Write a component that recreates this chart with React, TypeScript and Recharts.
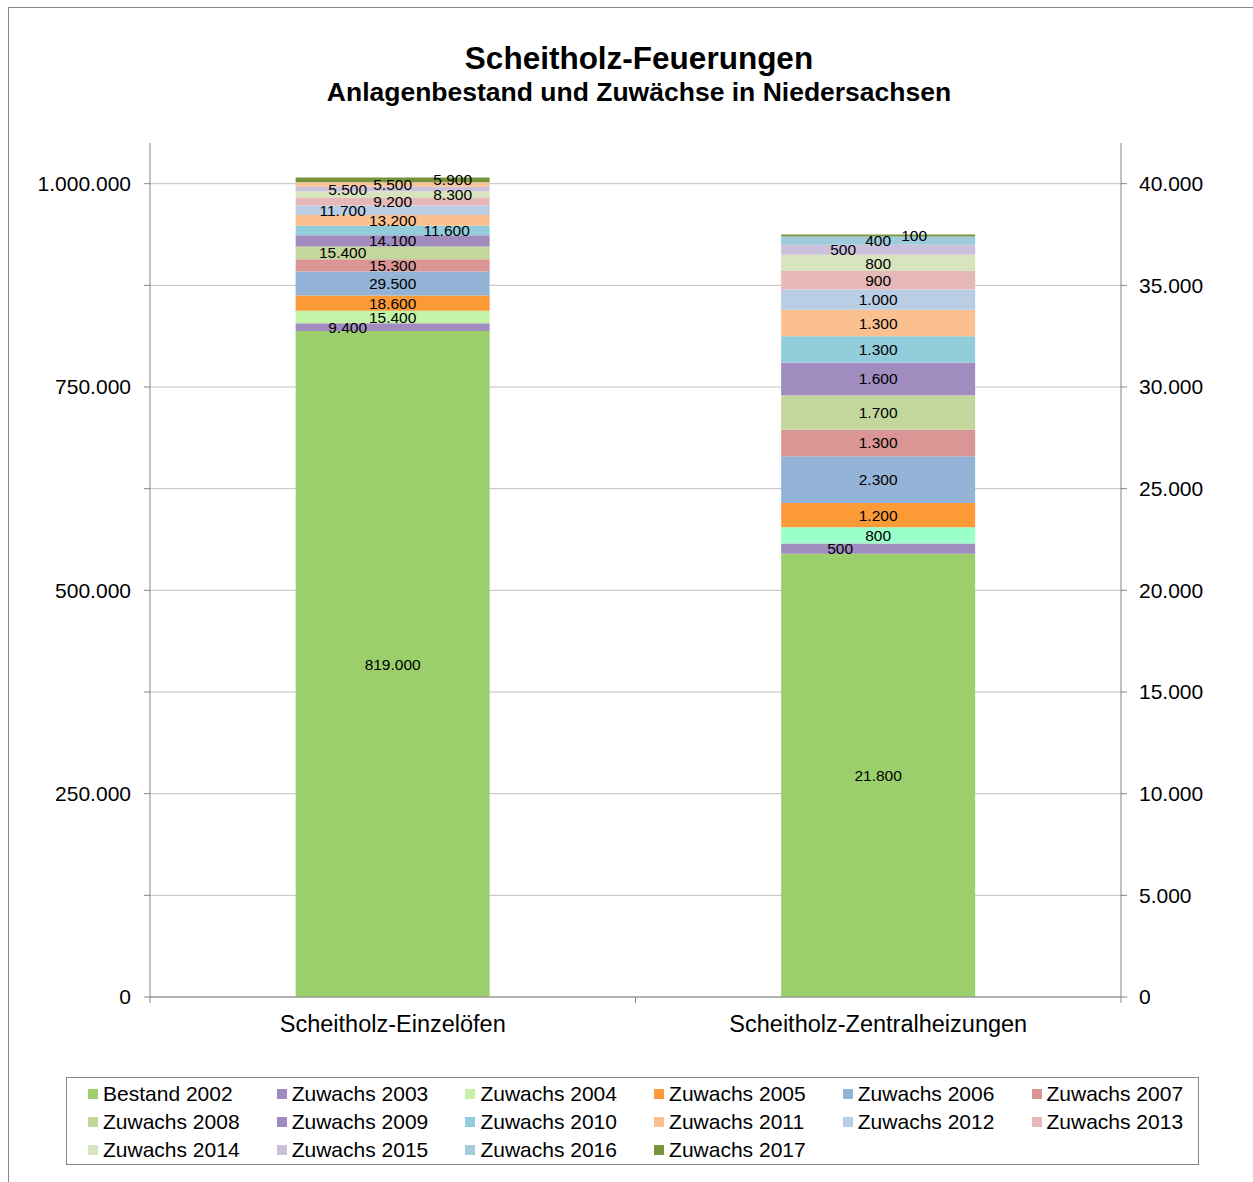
import React from "react";
import { BarChart, Bar, XAxis, YAxis, CartesianGrid, LabelList } from "recharts";

const categories = ["Scheitholz-Einzelöfen", "Scheitholz-Zentralheizungen"];
const seriesNames = [
  "Bestand 2002",
  "Zuwachs 2003",
  "Zuwachs 2004",
  "Zuwachs 2005",
  "Zuwachs 2006",
  "Zuwachs 2007",
  "Zuwachs 2008",
  "Zuwachs 2009",
  "Zuwachs 2010",
  "Zuwachs 2011",
  "Zuwachs 2012",
  "Zuwachs 2013",
  "Zuwachs 2014",
  "Zuwachs 2015",
  "Zuwachs 2016",
  "Zuwachs 2017",
];
// left axis
const einzeloefen = [819000, 9400, 15400, 18600, 29500, 15300, 15400, 14100, 11600, 13200, 11700, 9200, 8300, 5500, 5500, 5900];
// right axis
const zentralheizungen = [21800, 500, 800, 1200, 2300, 1300, 1700, 1600, 1300, 1300, 1000, 900, 800, 500, 400, 100];

const leftTicks = [0, 125000, 250000, 375000, 500000, 625000, 750000, 875000, 1000000];
const rightTicks = [0, 5000, 10000, 15000, 20000, 25000, 30000, 35000, 40000];
const LEFT_MAX = 1050000;
const RIGHT_MAX = 42000;

const legendColors = [
  "#9BCF6B", "#A08CBE", "#C6F0AA", "#FD9A38", "#93B3D7", "#D99694", "#C3D69B", "#A08CBE",
  "#92CDDC", "#FAC090", "#B9CDE5", "#E6B9B8", "#D7E4BD", "#CCC1DA", "#A5CBDB", "#77933C",
];
const colorsE = legendColors.map((c, i) => (i === 2 ? "#C3F2A9" : i === 14 ? "#F9C39A" : c));
const colorsZ = legendColors.map((c, i) => (i === 2 ? "#9BFFCA" : i === 14 ? "#9DCBDD" : c));

// horizontal nudges so the crowded labels don't sit on top of each other
const dxE = [0, -45, 0, 0, 0, 0, -50, 0, 54, 0, -50, 0, 60, -45, 0, 60];
const dxZ = [0, -38, 0, 0, 0, 0, 0, 0, 0, 0, 0, 0, 0, -35, 0, 36];

const W = 1253;
const H = 1182;
const M = { top: 143, right: 10, bottom: 125, left: 10 };
const BAND = (W - 150 - 132) / categories.length;
const FONT = "'Liberation Sans', Arial, sans-serif";

const fmt = (v: number) => String(Math.round(v)).replace(/\B(?=(\d{3})+(?!\d))/g, ".");

const rows = categories.map((name, ci) => {
  const row: Record<string, string | number> = { name };
  seriesNames.forEach((_, i) => {
    if (ci === 0) row[`e${i}`] = einzeloefen[i];
    else row[`z${i}`] = zentralheizungen[i];
  });
  return row;
});

const makeLabel = (dx: number) => (props: any) => {
  const { value } = props;
  if (value == null || value === 0) return null;
  const vb = props.viewBox ?? props;
  const x = Number(vb.x) + Number(vb.width) / 2 + dx;
  const y = Number(vb.y) + Number(vb.height) / 2;
  return (
    <text x={x} y={y} dy="0.36em" textAnchor="middle" fontSize={15.5} fill="#000" fontFamily={FONT}>
      {fmt(Number(value))}
    </text>
  );
};

const CategoryTick = (props: any) => {
  const { x, y, payload, index } = props;
  return (
    <g>
      <line x1={x - BAND / 2} x2={x - BAND / 2} y1={y - 8} y2={y - 2} stroke="#868686" />
      {index === categories.length - 1 && (
        <line x1={x + BAND / 2} x2={x + BAND / 2} y1={y - 8} y2={y - 2} stroke="#868686" />
      )}
      <text x={x} y={y + 27} textAnchor="middle" fontSize={23.5} fill="#000" fontFamily={FONT}>
        {payload.value}
      </text>
    </g>
  );
};

// only the tick rows, no line along the top edge of the plot
const gridRows = ({ yAxis, offset }: any) => {
  if (yAxis && typeof yAxis.scale === "function") return leftTicks.map((t) => yAxis.scale(t));
  return leftTicks.map((t) => offset.top + offset.height * (1 - t / LEFT_MAX));
};

export default function App() {
  return (
    <div style={{ position: "absolute", left: 0, top: 0, width: W, height: H, overflow: "hidden", fontFamily: FONT, background: "#fff" }}>
      <div
        style={{
          position: "absolute",
          left: 8,
          top: 7,
          width: W - 8,
          height: H - 7,
          borderLeft: "1px solid #868686",
          borderTop: "1px solid #868686",
          boxSizing: "border-box",
        }}
      />
      <div style={{ position: "absolute", left: 0, top: 38, width: 1278, textAlign: "center", fontSize: 31.5, fontWeight: "bold", lineHeight: "40px" }}>
        Scheitholz-Feuerungen
      </div>
      <div style={{ position: "absolute", left: 0, top: 76, width: 1278, textAlign: "center", fontSize: 26.5, fontWeight: "bold", lineHeight: "32px" }}>
        Anlagenbestand und Zuwächse in Niedersachsen
      </div>
      <div style={{ position: "absolute", left: 0, top: 0 }}>
        <BarChart width={W} height={H} data={rows} margin={M} barCategoryGap="30%">
          <CartesianGrid
            yAxisId="left"
            xAxisId="a"
            vertical={false}
            stroke="#C0C0C0"
            horizontalCoordinatesGenerator={gridRows}
          />
          <XAxis
            xAxisId="a"
            dataKey="name"
            type="category"
            height={60}
            axisLine={{ stroke: "#868686" }}
            tickLine={false}
            tick={<CategoryTick />}
            interval={0}
          />
          <XAxis xAxisId="b" dataKey="name" type="category" hide />
          <YAxis
            yAxisId="left"
            orientation="left"
            width={140}
            domain={[0, LEFT_MAX]}
            ticks={leftTicks}
            interval={0}
            allowDataOverflow
            axisLine={{ stroke: "#868686" }}
            tickLine={{ stroke: "#868686" }}
            tickSize={6}
            tickMargin={13}
            tick={{ fontSize: 21, fill: "#000", fontFamily: FONT }}
            tickFormatter={(v: number) => (v % 250000 === 0 ? fmt(v) : "")}
          />
          <YAxis
            yAxisId="right"
            orientation="right"
            width={122}
            domain={[0, RIGHT_MAX]}
            ticks={rightTicks}
            interval={0}
            allowDataOverflow
            axisLine={{ stroke: "#868686" }}
            tickLine={{ stroke: "#868686" }}
            tickSize={6}
            tickMargin={12}
            tick={{ fontSize: 21, fill: "#000", fontFamily: FONT, textAnchor: "start" }}
            tickFormatter={(v: number) => fmt(v)}
          />
          {seriesNames.map((s, i) => (
            <Bar
              key={`e${i}`}
              name={s}
              dataKey={`e${i}`}
              xAxisId="a"
              yAxisId="left"
              stackId="left"
              fill={colorsE[i]}
              isAnimationActive={false}
            >
              <LabelList dataKey={`e${i}`} content={makeLabel(dxE[i])} />
            </Bar>
          ))}
          {seriesNames.map((s, i) => (
            <Bar
              key={`z${i}`}
              name={s}
              dataKey={`z${i}`}
              xAxisId="b"
              yAxisId="right"
              stackId="right"
              fill={colorsZ[i]}
              legendType="none"
              isAnimationActive={false}
            >
              <LabelList dataKey={`z${i}`} content={makeLabel(dxZ[i])} />
            </Bar>
          ))}
        </BarChart>
      </div>
      <div
        style={{
          position: "absolute",
          left: 66,
          top: 1077,
          width: 1133,
          height: 88,
          border: "1px solid #868686",
          boxSizing: "border-box",
          background: "#fff",
        }}
      >
        {seriesNames.map((s, i) => (
          <div
            key={s}
            style={{
              position: "absolute",
              left: 21 + (i % 6) * 188.7,
              top: 2 + Math.floor(i / 6) * 28,
              height: 28,
              display: "flex",
              alignItems: "center",
              whiteSpace: "nowrap",
              fontSize: 21,
            }}
          >
            <span style={{ display: "inline-block", width: 10, height: 10, background: legendColors[i], marginRight: 5 }} />
            {s}
          </div>
        ))}
      </div>
    </div>
  );
}
